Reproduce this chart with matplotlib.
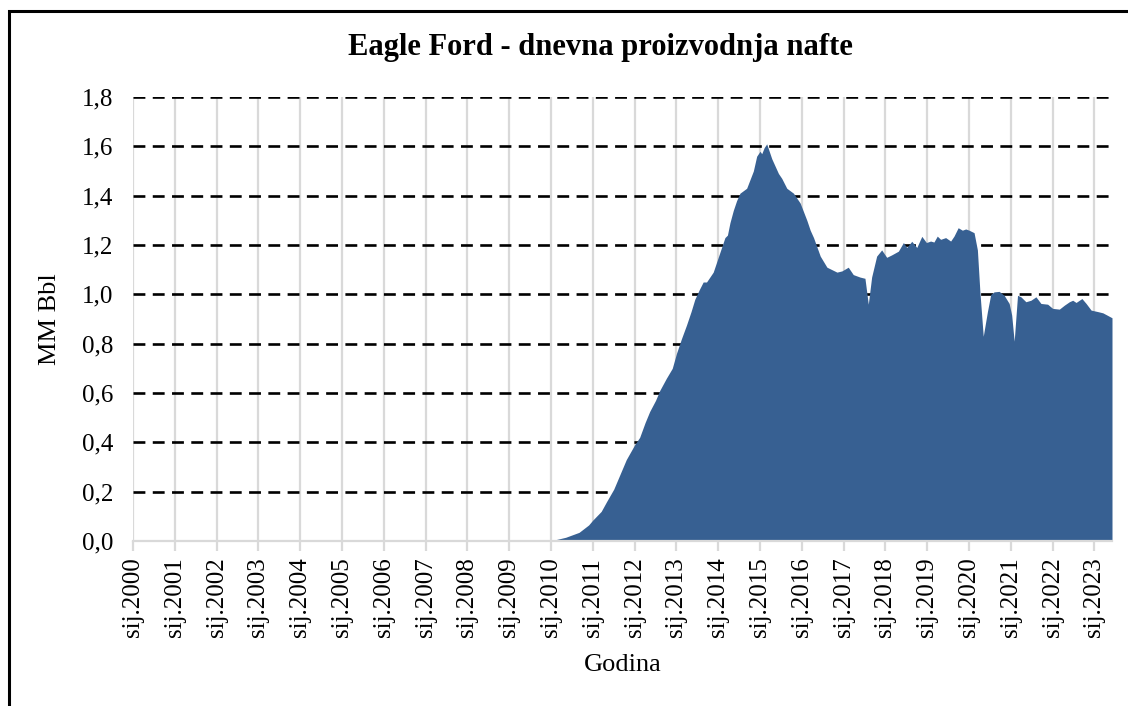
import matplotlib
matplotlib.use('Agg')
import matplotlib.pyplot as plt
from matplotlib.patches import Rectangle

# vrijeme (decimalna godina) i proizvodnja (MM Bbl/dan), ocitano sa slike
years = [2000.0, 2010.0, 2010.1, 2010.35, 2010.67, 2010.9, 2011.0, 2011.2, 2011.33, 2011.5,
         2011.65, 2011.8, 2011.9, 2012.0, 2012.12, 2012.25, 2012.36, 2012.5, 2012.6, 2012.76,
         2012.9, 2013.0, 2013.12, 2013.24, 2013.35, 2013.44, 2013.55, 2013.64, 2013.72, 2013.88,
         2014.04, 2014.16, 2014.22, 2014.28, 2014.36, 2014.44, 2014.52, 2014.68, 2014.84, 2014.92,
         2015.0, 2015.04, 2015.1, 2015.16, 2015.28, 2015.44, 2015.52, 2015.64, 2015.8, 2015.96,
         2016.12, 2016.2, 2016.28, 2016.44, 2016.6, 2016.84, 2016.96, 2017.11, 2017.23, 2017.39,
         2017.51, 2017.59, 2017.67, 2017.79, 2017.91, 2018.03, 2018.15, 2018.31, 2018.43, 2018.51,
         2018.63, 2018.75, 2018.87, 2018.98, 2019.08, 2019.16, 2019.24, 2019.32, 2019.44, 2019.56,
         2019.64, 2019.74, 2019.84, 2019.92, 2020.0, 2020.12, 2020.2, 2020.26, 2020.34, 2020.44,
         2020.52, 2020.6, 2020.72, 2020.84, 2020.96, 2021.02, 2021.08, 2021.16, 2021.24, 2021.36,
         2021.48, 2021.6, 2021.72, 2021.88, 2022.0, 2022.16, 2022.28, 2022.4, 2022.48, 2022.56,
         2022.7, 2022.8, 2022.92, 2023.08, 2023.2, 2023.3, 2023.42]
production = [0.0, 0.0, 0.005, 0.015, 0.035, 0.065, 0.085, 0.12, 0.16, 0.21,
              0.27, 0.33, 0.36, 0.39, 0.42, 0.48, 0.525, 0.57, 0.61, 0.66,
              0.70, 0.76, 0.82, 0.875, 0.93, 0.98, 1.02, 1.05, 1.05, 1.09,
              1.17, 1.23, 1.24, 1.29, 1.34, 1.38, 1.41, 1.43, 1.50, 1.56,
              1.58, 1.57, 1.595, 1.61, 1.55, 1.49, 1.47, 1.43, 1.41, 1.37,
              1.30, 1.26, 1.23, 1.155, 1.11, 1.09, 1.095, 1.11, 1.08, 1.07,
              1.065, 0.96, 1.07, 1.155, 1.18, 1.15, 1.16, 1.175, 1.21, 1.19,
              1.215, 1.19, 1.235, 1.21, 1.216, 1.212, 1.236, 1.223, 1.23, 1.216,
              1.236, 1.27, 1.26, 1.265, 1.26, 1.25, 1.18, 1.01, 0.83, 0.93,
              1.0, 1.01, 1.012, 0.996, 0.963, 0.916, 0.81, 0.996, 0.99, 0.97,
              0.976, 0.99, 0.963, 0.96, 0.943, 0.94, 0.956, 0.97, 0.976, 0.967,
              0.983, 0.963, 0.936, 0.93, 0.925, 0.916, 0.905]

tick_years = list(range(2000, 2024))
tick_labels = [f"sij.{y}" for y in tick_years]
y_ticks = [0.0, 0.2, 0.4, 0.6, 0.8, 1.0, 1.2, 1.4, 1.6, 1.8]
y_labels = [f"{v:.1f}".replace('.', ',') for v in y_ticks]

plt.rcParams['font.family'] = ['Liberation Serif', 'DejaVu Serif']

fig = plt.figure(figsize=(11.28, 7.06), dpi=100)
ax = fig.add_axes([133 / 1128, 1 - 541 / 706, (1112 - 133) / 1128, (541 - 97) / 706])

ax.fill_between(years, production, 0, color='#376092', linewidth=0, zorder=3)

ax.set_xlim(2000, 2023.42)
ax.set_ylim(0, 1.8)
ax.set_xticks(tick_years)
ax.set_xticklabels(tick_labels, rotation=90, fontsize=18)
ax.set_yticks(y_ticks)
ax.set_yticklabels(y_labels, fontsize=18)

# mreza: vertikalno svijetlo siva, horizontalno crne isprekidane linije
for y in tick_years:
    ax.axvline(y, color='#d9d9d9', linewidth=1.6, zorder=1)
for v in y_ticks[1:]:
    ax.axhline(v, color='black', linewidth=1.9, linestyle=(0, (4.5, 2.8)), zorder=2)

for s in ['left', 'right', 'top']:
    ax.spines[s].set_visible(False)
ax.spines['bottom'].set_color('#d9d9d9')
ax.spines['bottom'].set_linewidth(1.6)
ax.spines['bottom'].set_zorder(4)
ax.tick_params(axis='x', length=7, width=1.6, color='#d9d9d9', pad=5)
ax.tick_params(axis='y', length=0, pad=14)

ax.set_xlabel("Godina", fontsize=19, labelpad=12)
ax.set_ylabel("MM Bbl", fontsize=19, labelpad=22)
ax.yaxis.set_label_coords(-72 / 979, 0.5)

fig.text(600 / 1128, 1 - 48 / 706, "Eagle Ford - dnevna proizvodnja nafte",
         fontsize=22, fontweight='bold', ha='center', va='center')

# okvir grafikona
fig.patches.append(Rectangle((9 / 1128, -0.2), 1.2, 1.2 - 11 / 706, transform=fig.transFigure,
                             fill=False, edgecolor='black', linewidth=2.2))

fig.savefig('out.png', dpi=100)
